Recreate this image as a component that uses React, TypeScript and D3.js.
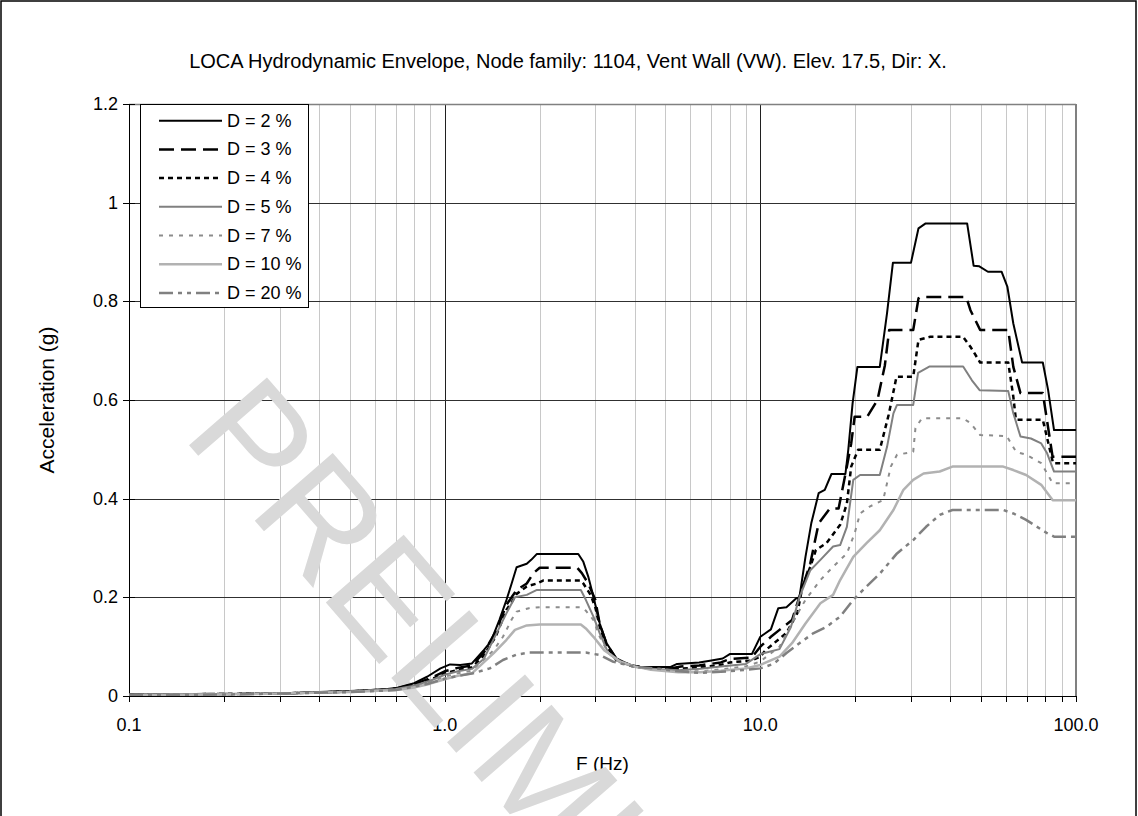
import React, { useEffect, useRef } from 'react';
import * as d3 from 'd3';

const W = 1138;
const H = 816;

const title = 'LOCA Hydrodynamic Envelope, Node family: 1104, Vent Wall (VW). Elev. 17.5, Dir: X.';
const xTicks = [0.1, 1, 10, 100];
const xTickLabels = ['0.1', '1.0', '10.0', '100.0'];
const yTicks = [0, 0.2, 0.4, 0.6, 0.8, 1, 1.2];
const yTickLabels = ['0', '0.2', '0.4', '0.6', '0.8', '1', '1.2'];
const legendLabels = ['D = 2 %', 'D = 3 %', 'D = 4 %', 'D = 5 %', 'D = 7 %', 'D = 10 %', 'D = 20 %'];

// [frequency Hz, acceleration g]
const d2: [number, number][] = [
  [0.1, 0.003], [0.2, 0.004], [0.3, 0.005], [0.4, 0.008], [0.5, 0.01], [0.62, 0.012], [0.7, 0.016], [0.8, 0.026],
  [0.88, 0.039], [0.97, 0.056], [1.04, 0.064], [1.12, 0.063], [1.22, 0.066], [1.33, 0.093], [1.4, 0.11], [1.49, 0.154],
  [1.57, 0.195], [1.63, 0.228], [1.69, 0.261], [1.82, 0.268], [1.88, 0.276], [1.96, 0.288], [2.65, 0.288], [2.75, 0.272],
  [2.85, 0.242], [2.96, 0.201], [3.1, 0.147], [3.26, 0.107], [3.5, 0.076], [3.86, 0.063], [4.15, 0.059], [5.2, 0.059],
  [5.45, 0.065], [6.4, 0.068], [7.0, 0.072], [7.6, 0.076], [8.0, 0.085], [9.4, 0.085], [10.0, 0.12], [10.8, 0.135],
  [11.4, 0.178], [12.1, 0.18], [13.0, 0.198], [13.3, 0.2], [13.9, 0.282], [14.5, 0.35], [15.3, 0.411], [16.0, 0.418],
  [16.8, 0.45], [18.6, 0.45], [19.0, 0.5], [19.6, 0.593], [20.3, 0.667], [23.9, 0.667], [25.2, 0.776], [26.3, 0.878],
  [30.0, 0.878], [31.7, 0.948], [33.4, 0.958], [45.2, 0.958], [47.4, 0.872], [49.4, 0.871], [52.6, 0.86], [58.1, 0.86],
  [60.6, 0.83], [63.3, 0.755], [67.5, 0.676], [78.5, 0.676], [81.6, 0.62], [85.2, 0.539], [100, 0.539],
];
const d3pc: [number, number][] = [
  [0.1, 0.003], [0.2, 0.004], [0.3, 0.005], [0.5, 0.009], [0.7, 0.015], [0.8, 0.024], [0.9, 0.036], [1.0, 0.05],
  [1.1, 0.057], [1.22, 0.062], [1.33, 0.088], [1.45, 0.13], [1.57, 0.185], [1.63, 0.2], [1.69, 0.215], [1.82, 0.228],
  [1.91, 0.249], [2.0, 0.26], [2.63, 0.26], [2.72, 0.249], [2.85, 0.228], [3.0, 0.195], [3.1, 0.145], [3.26, 0.105],
  [3.5, 0.075], [3.9, 0.062], [4.3, 0.058], [5.2, 0.056], [5.6, 0.06], [6.4, 0.062], [7.5, 0.068], [8.0, 0.075],
  [9.4, 0.078], [10.0, 0.1], [10.8, 0.12], [11.5, 0.134], [12.6, 0.154], [13.3, 0.201], [14.4, 0.269], [15.3, 0.35],
  [16.6, 0.38], [17.7, 0.38], [18.8, 0.465], [19.4, 0.512], [19.9, 0.566], [21.8, 0.566], [23.5, 0.6], [24.8, 0.67],
  [25.6, 0.742], [30.5, 0.742], [31.7, 0.806], [32.2, 0.809], [44.9, 0.809], [46.3, 0.782], [49.7, 0.742], [61.0, 0.742],
  [63.3, 0.667], [66.7, 0.614], [78.5, 0.614], [84.3, 0.485], [100, 0.485],
];
const d4: [number, number][] = [
  [0.1, 0.003], [0.2, 0.004], [0.3, 0.005], [0.5, 0.009], [0.7, 0.014], [0.8, 0.022], [0.9, 0.033], [1.0, 0.046],
  [1.1, 0.053], [1.22, 0.058], [1.33, 0.082], [1.45, 0.12], [1.57, 0.175], [1.63, 0.19], [1.69, 0.207], [1.82, 0.222],
  [1.96, 0.228], [2.05, 0.234], [2.7, 0.234], [2.75, 0.228], [2.9, 0.205], [3.0, 0.18], [3.1, 0.14], [3.26, 0.1],
  [3.5, 0.073], [3.9, 0.061], [4.3, 0.057], [5.2, 0.054], [6.4, 0.058], [7.5, 0.063], [8.0, 0.068], [9.4, 0.072],
  [10.0, 0.08], [10.4, 0.093], [12.1, 0.128], [13.1, 0.168], [13.6, 0.222], [14.4, 0.262], [15.0, 0.296], [16.2, 0.31],
  [17.9, 0.347], [18.8, 0.39], [19.4, 0.465], [20.4, 0.499], [23.9, 0.499], [25.5, 0.57], [27.0, 0.647], [30.5, 0.647],
  [31.7, 0.722], [34.4, 0.728], [43.9, 0.728], [46.3, 0.708], [49.7, 0.676], [61.0, 0.676], [63.3, 0.607], [64.5, 0.56],
  [78.5, 0.56], [84.6, 0.472], [100, 0.472],
];
const d5: [number, number][] = [
  [0.1, 0.003], [0.2, 0.004], [0.3, 0.005], [0.5, 0.009], [0.7, 0.014], [0.8, 0.021], [0.9, 0.031], [1.0, 0.043],
  [1.1, 0.05], [1.22, 0.055], [1.33, 0.075], [1.46, 0.127], [1.57, 0.168], [1.67, 0.2], [1.82, 0.205], [1.96, 0.215],
  [2.7, 0.215], [2.8, 0.195], [2.96, 0.161], [3.1, 0.127], [3.3, 0.087], [3.6, 0.068], [4.0, 0.06], [4.5, 0.055],
  [5.5, 0.052], [6.45, 0.055], [7.5, 0.06], [9.0, 0.065], [10.0, 0.085], [11.5, 0.095], [12.5, 0.14], [13.3, 0.2],
  [14.4, 0.255], [15.5, 0.276], [17.0, 0.303], [17.9, 0.306], [18.8, 0.343], [19.7, 0.438], [20.7, 0.448], [23.9, 0.448],
  [25.2, 0.505], [26.4, 0.573], [27.1, 0.59], [30.5, 0.59], [31.6, 0.655], [34.4, 0.668], [43.9, 0.668], [46.8, 0.64],
  [49.5, 0.62], [61.0, 0.618], [63.3, 0.573], [66.7, 0.526], [72, 0.522], [77.6, 0.512], [81, 0.492], [85.2, 0.455],
  [100, 0.455],
];
const d7: [number, number][] = [
  [0.1, 0.002], [0.2, 0.004], [0.3, 0.005], [0.5, 0.009], [0.7, 0.013], [0.8, 0.019], [0.9, 0.028], [1.0, 0.039],
  [1.1, 0.046], [1.22, 0.051], [1.43, 0.093], [1.53, 0.12], [1.63, 0.155], [1.69, 0.171], [1.85, 0.178], [2.0, 0.18],
  [2.7, 0.18], [2.8, 0.173], [2.96, 0.154], [3.1, 0.12], [3.3, 0.087], [3.6, 0.068], [4.0, 0.059], [4.5, 0.054],
  [5.5, 0.05], [6.45, 0.05], [7.5, 0.054], [9.0, 0.06], [10.0, 0.07], [11.5, 0.1], [12.6, 0.147], [13.9, 0.195],
  [15.5, 0.235], [17.0, 0.262], [18.8, 0.289], [19.9, 0.33], [20.7, 0.37], [22.2, 0.384], [24.5, 0.397], [25.9, 0.465],
  [27.1, 0.489], [30.5, 0.495], [31.0, 0.543], [32.5, 0.563], [43.9, 0.563], [46.3, 0.553], [49.7, 0.529], [60.3, 0.527],
  [64.6, 0.495], [69.5, 0.489], [77.6, 0.472], [81, 0.451], [84.4, 0.431], [100, 0.431],
];
const d10: [number, number][] = [
  [0.1, 0.002], [0.2, 0.003], [0.3, 0.005], [0.5, 0.008], [0.7, 0.012], [0.8, 0.017], [0.9, 0.025], [1.0, 0.034],
  [1.1, 0.041], [1.22, 0.046], [1.43, 0.087], [1.57, 0.114], [1.67, 0.134], [1.82, 0.143], [2.0, 0.145], [2.7, 0.145],
  [2.8, 0.137], [2.96, 0.12], [3.2, 0.093], [3.6, 0.07], [4.0, 0.06], [4.5, 0.053], [5.5, 0.048], [6.45, 0.048],
  [7.5, 0.051], [9.0, 0.056], [10.0, 0.063], [11.5, 0.08], [12.6, 0.107], [13.9, 0.147], [15.5, 0.188], [17.0, 0.205],
  [17.9, 0.235], [19.7, 0.282], [21.7, 0.31], [23.9, 0.336], [26.4, 0.377], [28.4, 0.418], [30.5, 0.438], [32.9, 0.451],
  [37, 0.455], [40.6, 0.465], [58.8, 0.465], [63.3, 0.458], [69.5, 0.448], [77.6, 0.428], [84.4, 0.397], [100, 0.397],
];
const d20: [number, number][] = [
  [0.1, 0.002], [0.2, 0.003], [0.3, 0.005], [0.5, 0.008], [0.7, 0.012], [0.8, 0.019], [0.9, 0.026], [1.01, 0.036],
  [1.23, 0.046], [1.39, 0.056], [1.53, 0.073], [1.69, 0.084], [1.85, 0.088], [2.8, 0.088], [3.1, 0.083], [3.4, 0.07],
  [3.95, 0.06], [4.8, 0.055], [5.5, 0.05], [6.45, 0.047], [7.5, 0.049], [9.0, 0.053], [10.0, 0.056], [11.0, 0.065],
  [12.1, 0.087], [13.3, 0.107], [14.7, 0.127], [16.2, 0.14], [17.9, 0.161], [19.7, 0.195], [21.7, 0.222], [23.9, 0.248],
  [27.1, 0.289], [30.5, 0.316], [33.5, 0.343], [37, 0.367], [40.6, 0.377], [58.8, 0.377], [63.3, 0.37], [69.5, 0.357],
  [81, 0.33], [85.2, 0.323], [100, 0.323],
];

const seriesData = [d2, d3pc, d4, d5, d7, d10, d20];
const seriesStyle = [
  { color: '#000000', width: 2, dash: null },
  { color: '#000000', width: 2.5, dash: '15,7' },
  { color: '#000000', width: 2.5, dash: '5,4' },
  { color: '#808080', width: 2, dash: null },
  { color: '#8c8c8c', width: 2, dash: '4,6' },
  { color: '#b2b2b2', width: 2.5, dash: null },
  { color: '#808080', width: 2.5, dash: '14,5,4,5,4,5' },
];

const FONT = '"Liberation Sans", Arial, sans-serif';

const App: React.FC = () => {
  const svgRef = useRef<SVGSVGElement>(null);

  useEffect(() => {
    if (!svgRef.current) return;
    const svg = d3.select(svgRef.current);
    svg.selectAll('*').remove();

    const left = 129, right = 1076, top = 104, bottom = 696;
    const x = d3.scaleLog().domain([0.1, 100]).range([left, right]);
    const y = d3.scaleLinear().domain([0, 1.2]).range([bottom, top]);
    const crisp = (v: number) => Math.round(v) + 0.5;

    svg.append('rect').attr('x', 0).attr('y', 0).attr('width', W).attr('height', H).attr('fill', '#fff');
    // outer chart frame
    svg.append('rect').attr('x', 1).attr('y', 1).attr('width', 1135).attr('height', 840)
      .attr('fill', 'none').attr('stroke', '#000').attr('stroke-width', 1.5);

    // minor vertical grid
    const minor: number[] = [];
    [0.1, 1, 10].forEach(dec => { for (let k = 2; k <= 9; k++) minor.push(dec * k); });
    minor.forEach(f => {
      svg.append('line').attr('x1', crisp(x(f))).attr('x2', crisp(x(f))).attr('y1', top).attr('y2', bottom)
        .attr('stroke', '#c8c8c8').attr('stroke-width', 1);
    });
    [1, 10].forEach(f => {
      svg.append('line').attr('x1', crisp(x(f))).attr('x2', crisp(x(f))).attr('y1', top).attr('y2', bottom)
        .attr('stroke', '#202020').attr('stroke-width', 1);
    });
    yTicks.slice(1, -1).forEach(v => {
      svg.append('line').attr('x1', left).attr('x2', right).attr('y1', crisp(y(v))).attr('y2', crisp(y(v)))
        .attr('stroke', '#303030').attr('stroke-width', 1);
    });
    // plot area border (top/right)
    svg.append('line').attr('x1', left).attr('x2', right).attr('y1', crisp(top)).attr('y2', crisp(top))
      .attr('stroke', '#808080').attr('stroke-width', 1.5);
    svg.append('line').attr('x1', right).attr('x2', right).attr('y1', top).attr('y2', bottom)
      .attr('stroke', '#808080').attr('stroke-width', 2);

    // axes
    svg.append('line').attr('x1', crisp(left)).attr('x2', crisp(left)).attr('y1', top).attr('y2', bottom + 1)
      .attr('stroke', '#000').attr('stroke-width', 1);
    svg.append('line').attr('x1', left).attr('x2', right).attr('y1', crisp(bottom)).attr('y2', crisp(bottom))
      .attr('stroke', '#000').attr('stroke-width', 1);
    yTicks.forEach(v => {
      svg.append('line').attr('x1', left - 6).attr('x2', left + 6).attr('y1', crisp(y(v))).attr('y2', crisp(y(v)))
        .attr('stroke', '#000').attr('stroke-width', 1);
    });
    [...xTicks, ...minor].forEach(f => {
      svg.append('line').attr('x1', crisp(x(f))).attr('x2', crisp(x(f))).attr('y1', bottom).attr('y2', bottom + 6)
        .attr('stroke', '#000').attr('stroke-width', 1);
    });

    // tick labels
    yTicks.forEach((v, i) => {
      svg.append('text').attr('x', left - 11).attr('y', y(v) + 6).attr('text-anchor', 'end')
        .attr('font-family', FONT).attr('font-size', 18).attr('fill', '#000').text(yTickLabels[i]);
    });
    xTicks.forEach((f, i) => {
      svg.append('text').attr('x', x(f)).attr('y', 731).attr('text-anchor', 'middle')
        .attr('font-family', FONT).attr('font-size', 18).attr('fill', '#000').text(xTickLabels[i]);
    });

    // titles
    svg.append('text').attr('x', 568).attr('y', 68).attr('text-anchor', 'middle')
      .attr('font-family', FONT).attr('font-size', 20).attr('fill', '#000').text(title);
    svg.append('text').attr('x', (left + right) / 2).attr('y', 770).attr('text-anchor', 'middle')
      .attr('font-family', FONT).attr('font-size', 19).attr('fill', '#000').text('F (Hz)');
    svg.append('text').attr('transform', 'translate(54,400) rotate(-90)').attr('text-anchor', 'middle')
      .attr('font-family', FONT).attr('font-size', 21).attr('fill', '#000').text('Acceleration (g)');

    // watermark
    svg.append('text').attr('transform', 'translate(181,436) rotate(49)')
      .attr('font-family', FONT).attr('font-size', 150).attr('fill', '#d9d9d9').text('PRELIMINARY');

    // curves
    svg.append('defs').append('clipPath').attr('id', 'plotclip').append('rect')
      .attr('x', left).attr('y', top).attr('width', right - left).attr('height', bottom - top);
    const line = d3.line<[number, number]>().x(d => x(d[0])).y(d => y(d[1]));
    const g = svg.append('g').attr('clip-path', 'url(#plotclip)');
    seriesData.forEach((data, i) => {
      const s = seriesStyle[i];
      g.append('path').attr('d', line(data)).attr('fill', 'none').attr('stroke', s.color)
        .attr('stroke-width', s.width).attr('stroke-dasharray', s.dash).attr('stroke-linejoin', 'round');
    });

    // legend
    const lx = 140, ly = 104, lw = 168, lh = 203, rowH = 28.7;
    svg.append('rect').attr('x', lx + 0.5).attr('y', ly + 0.5).attr('width', lw).attr('height', lh)
      .attr('fill', '#fff').attr('stroke', '#000').attr('stroke-width', 1);
    legendLabels.forEach((lab, i) => {
      const cy = ly + 16.7 + i * rowH;
      const s = seriesStyle[i];
      svg.append('line').attr('x1', 159).attr('x2', 222).attr('y1', cy).attr('y2', cy)
        .attr('stroke', s.color).attr('stroke-width', s.width).attr('stroke-dasharray', s.dash);
      svg.append('text').attr('x', 227).attr('y', cy + 6).attr('font-family', FONT).attr('font-size', 18)
        .attr('fill', '#000').text(lab);
    });
  }, []);

  return (
    <div style={{ position: 'absolute', left: 0, top: 0, width: W, height: H, background: '#fff' }}>
      <svg ref={svgRef} width={W} height={H} style={{ display: 'block' }} />
    </div>
  );
};

export default App;
